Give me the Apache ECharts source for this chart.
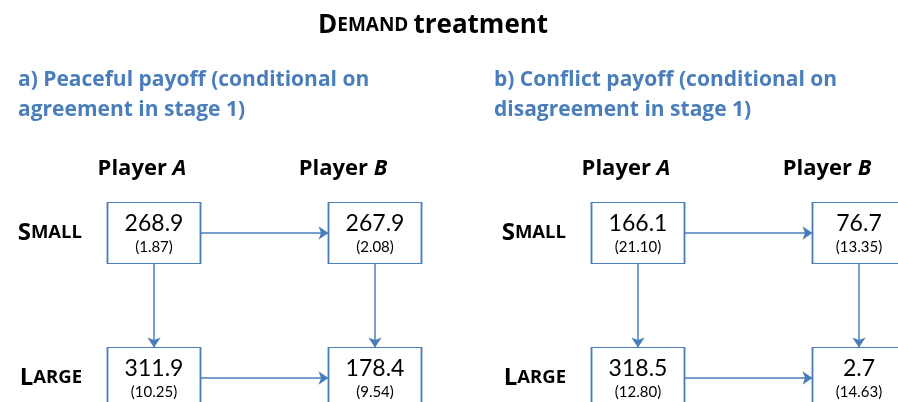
<!DOCTYPE html>
<html>
<head>
<meta charset="utf-8">
<script src="https://cdn.jsdelivr.net/npm/echarts@6/dist/echarts.min.js"></script>
<style>
  html, body { margin: 0; padding: 0; background: #fff; }
  #chart { width: 898px; height: 402px; }
</style>
</head>
<body>
<div id="chart"></div>
<script>
// cells are ordered: A-small, B-small, A-large, B-large
var players = ['Player A', 'Player B'];
var sizes = ['SMALL', 'LARGE'];
var cellPlayer = [0, 1, 0, 1];
var cellSize = [0, 0, 1, 1];

var peacefulMeans = [268.9, 267.9, 311.9, 178.4];
var peacefulSE = [1.87, 2.08, 10.25, 9.54];
var conflictMeans = [166.1, 76.7, 318.5, 2.7];
var conflictSE = [21.10, 13.35, 12.80, 14.63];

// arrows between cells: [from, to]
var arrows = [[0, 1], [2, 3], [0, 2], [1, 3]];

var BLUE = '#4A7EBB';
var FONT = 'Lato';
var BOLD = 'Open Sans';
var boxW = 93, boxH = 61;
var gridW = 221, gridH = 145;

function cells(means, ses) {
  var out = [];
  for (var i = 0; i < means.length; i++) {
    out.push([cellPlayer[i], cellSize[i], means[i], ses[i]]);
  }
  return out;
}

function arrowData() {
  var dx = (boxW / 2) / gridW;
  var dy = (boxH / 2) / gridH;
  var out = [];
  arrows.forEach(function (a) {
    var x1 = cellPlayer[a[0]], y1 = cellSize[a[0]];
    var x2 = cellPlayer[a[1]], y2 = cellSize[a[1]];
    var sx = Math.sign(x2 - x1), sy = Math.sign(y2 - y1);
    out.push({
      coords: [
        [x1 + sx * dx, y1 + sy * dy],
        [x2 - sx * dx, y2 - sy * dy],
      ],
    });
  });
  return out;
}

function xAxis(idx) {
  var bold = { fontFamily: BOLD, fontWeight: 'bold', fontSize: 22, color: '#000' };
  return {
    gridIndex: idx,
    type: 'value',
    position: 'top',
    min: 0,
    max: 1,
    interval: 1,
    axisLine: { show: false },
    axisTick: { show: false },
    splitLine: { show: false },
    axisLabel: {
      margin: 53,
      formatter: function (v) {
        var name = players[v].split(' ');
        return v === 0
          ? '{a|' + name[0] + ' }{ai|' + name[1] + '}'
          : '{b|' + name[0] + ' }{bi|' + name[1] + '}';
      },
      rich: {
        a: bold,
        ai: Object.assign({}, bold, { fontStyle: 'italic', padding: [0, 24, 0, 0] }),
        b: bold,
        bi: Object.assign({}, bold, { fontStyle: 'italic', padding: [0, 64, 0, 0] }),
      },
    },
  };
}

function yAxis(idx) {
  return {
    gridIndex: idx,
    type: 'value',
    inverse: true,
    min: 0,
    max: 1,
    interval: 1,
    axisLine: { show: false },
    axisTick: { show: false },
    splitLine: { show: false },
    axisLabel: {
      margin: 72,
      formatter: function (v) {
        var s = sizes[v];
        return '{c|' + s.charAt(0) + '}{s|' + s.slice(1) + '}';
      },
      rich: {
        c: { fontFamily: BOLD, fontWeight: 'bold', fontSize: 24, color: '#000' },
        s: { fontFamily: BOLD, fontWeight: 'bold', fontSize: 18.5, color: '#000' },
      },
    },
  };
}

function boxSeries(idx, means, ses) {
  return {
    type: 'scatter',
    xAxisIndex: idx,
    yAxisIndex: idx,
    clip: false,
    symbol: 'rect',
    symbolSize: [boxW, boxH],
    z: 3,
    itemStyle: { color: '#fff', borderColor: BLUE, borderWidth: 1.5, opacity: 1 },
    label: {
      show: true,
      position: 'inside',
      formatter: function (p) {
        return '{v|' + p.value[2].toFixed(1) + '}\n{s|(' + p.value[3].toFixed(2) + ')}';
      },
      rich: {
        v: { fontFamily: FONT, fontSize: 23, color: '#000', lineHeight: 28 },
        s: { fontFamily: FONT, fontSize: 15, color: '#000', lineHeight: 18 },
      },
    },
    data: cells(means, ses),
  };
}

function arrowSeries(idx) {
  return {
    type: 'lines',
    coordinateSystem: 'cartesian2d',
    xAxisIndex: idx,
    yAxisIndex: idx,
    clip: false,
    symbol: ['none', 'arrow'],
    symbolSize: 10,
    lineStyle: { color: BLUE, width: 1.5, opacity: 1 },
    z: 2,
    data: arrowData(),
  };
}

var subStyle = { fontFamily: BOLD, fontWeight: 'bold', fontSize: 21, color: BLUE, lineHeight: 30 };

var chart = echarts.init(document.getElementById('chart'));
chart.setOption({
  backgroundColor: '#fff',
  animation: false,
  title: [
    {
      text: '{a|D}{b|EMAND} {a|treatment}',
      left: 313,
      top: 8,
      textStyle: {
        rich: {
          a: { fontFamily: BOLD, fontWeight: 'bold', fontSize: 26, color: '#000' },
          b: { fontFamily: BOLD, fontWeight: 'bold', fontSize: 19, color: '#000' },
        },
      },
    },
    {
      text: 'a) Peaceful payoff (conditional on\nagreement in stage 1)',
      left: 13,
      top: 60,
      textStyle: subStyle,
    },
    {
      text: 'b) Conflict payoff (conditional on\ndisagreement in stage 1)',
      left: 489,
      top: 60,
      textStyle: subStyle,
    },
  ],
  grid: [
    { left: 154, top: 233, width: gridW, height: gridH },
    { left: 638, top: 233, width: gridW, height: gridH },
  ],
  xAxis: [xAxis(0), xAxis(1)],
  yAxis: [yAxis(0), yAxis(1)],
  series: [
    arrowSeries(0),
    boxSeries(0, peacefulMeans, peacefulSE),
    arrowSeries(1),
    boxSeries(1, conflictMeans, conflictSE),
  ],
});
</script>
</body>
</html>
